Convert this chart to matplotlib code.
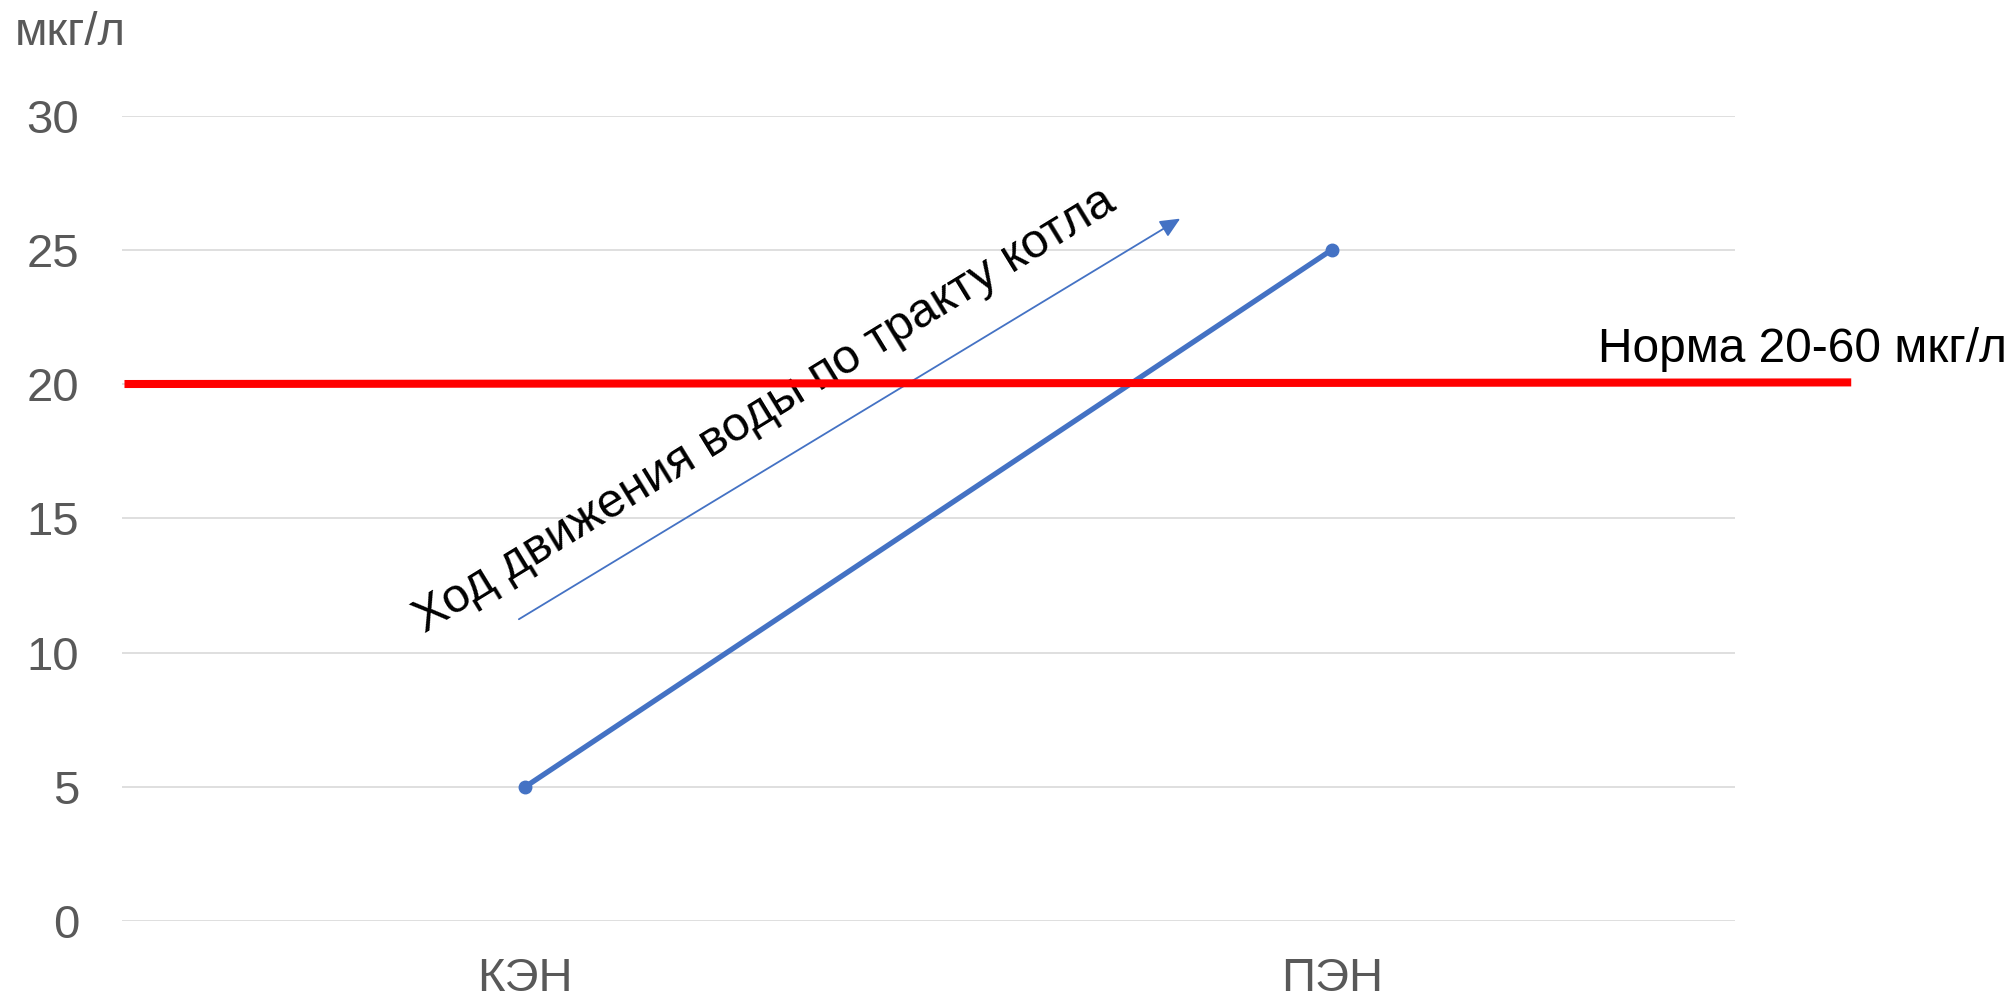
import matplotlib.pyplot as plt

plt.rcParams['font.family'] = ['Liberation Sans', 'DejaVu Sans']

categories = ['КЭН', 'ПЭН']
values = [5, 25]
y_ticks = [0, 5, 10, 15, 20, 25, 30]
unit_label = 'мкг/л'

# norm line (drawn a bit past the last category, slightly tilted like the original)
norm_x = [-0.497, 1.644]
norm_y = [20.0, 20.06]
norm_label = 'Норма 20-60 мкг/л'

# arrow showing direction of water flow
arrow_start = (-0.008, 11.24)
arrow_end = (0.812, 26.16)
arrow_label = 'Ход движения воды по тракту котла'

blue = '#4472C4'
grey = '#595959'

fig = plt.figure(figsize=(20.11, 10.01), dpi=100)
ax = fig.add_axes([0.0607, 0.0799, 0.8021, 0.8047])

xpos = list(range(len(categories)))
ax.plot(xpos, values, color=blue, lw=3.8, marker='o', markersize=9, zorder=3)

ax.plot(norm_x, norm_y, color='#FF0000', lw=5.8, clip_on=False, zorder=4,
        solid_capstyle='butt')
ax.text(1.330, 20.81, norm_label, fontsize=34.5, color='black', ha='left', va='baseline')

ax.annotate('', xy=arrow_end, xytext=arrow_start,
            arrowprops=dict(arrowstyle='-|>,head_length=0.55,head_width=0.25',
                            color=blue, lw=1.3, mutation_scale=22, shrinkA=0, shrinkB=0))
ax.text(-0.125, 10.7, arrow_label, fontsize=35, color='black', rotation=31.5,
        rotation_mode='anchor', ha='left', va='baseline')

ax.set_xlim(-0.5, 1.5)
ax.set_ylim(0, 30)
ax.set_xticks(xpos)
ax.set_xticklabels(categories)
ax.set_yticks(y_ticks)
ax.tick_params(axis='both', length=0, labelsize=34, labelcolor=grey)
ax.tick_params(axis='y', pad=31)
ax.tick_params(axis='x', pad=26)
ax.grid(axis='y', color='#D9D9D9', lw=1.2)
ax.set_axisbelow(True)
for s in ax.spines.values():
    s.set_visible(False)

fig.text(0.0075, 0.967, unit_label, fontsize=34, color=grey, ha='left', va='center')

fig.savefig('out.png', dpi=100)
